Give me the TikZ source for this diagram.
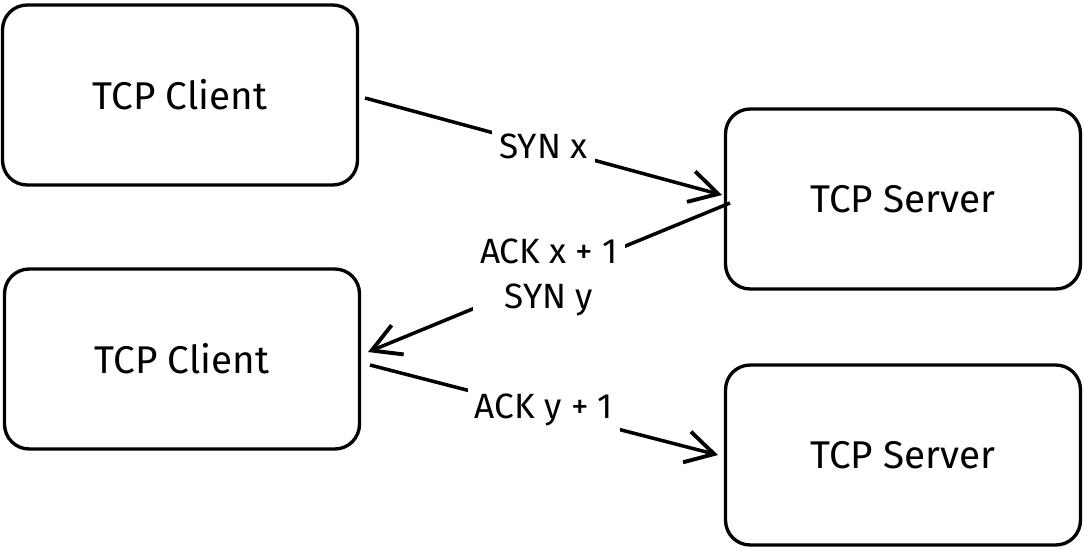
\documentclass[tikz,border=0pt]{standalone}
\usepackage{fontspec}
\setmainfont{Fira Sans}
\usetikzlibrary{arrows.meta}
\begin{document}
\begin{tikzpicture}[x=0.02cm,y=-0.02cm,
  box/.style={draw,line width=1.9pt,rounded corners=14pt,minimum width=7.1cm,minimum height=3.6cm,font=\fontsize{22}{26}\selectfont},
  conn/.style={line width=2pt,-{Straight Barb[length=16pt,width=18pt,line width=2.2pt]}},
  lbl/.style={fill=white,font=\fontsize{20}{26}\selectfont,align=center,inner sep=4pt}]
\useasboundingbox (0,0) rectangle (1084,551);
\node[box] (c1) at (180,95) {TCP Client};
\node[box] (s1) at (903,199) {TCP Server};
\node[box] (c2) at (182,359) {TCP Client};
\node[box] (s2) at (903,455) {TCP Server};
\coordinate (a1) at (365,98);
\coordinate (b1) at (722,195);
\coordinate (a2) at (730,203);
\coordinate (b2) at (368,352);
\coordinate (a3) at (370,365);
\coordinate (b3) at (718,455);
\draw[conn] (a1) -- node[lbl,pos=0.5] (l1) {SYN x} (b1);
\draw[conn] (a2) -- node[lbl,pos=0.5] (l2) {ACK x + 1\\SYN y} (b2);
\draw[conn] (a3) -- node[lbl,pos=0.5] (l3) {ACK y + 1} (b3);
\end{tikzpicture}
\end{document}
